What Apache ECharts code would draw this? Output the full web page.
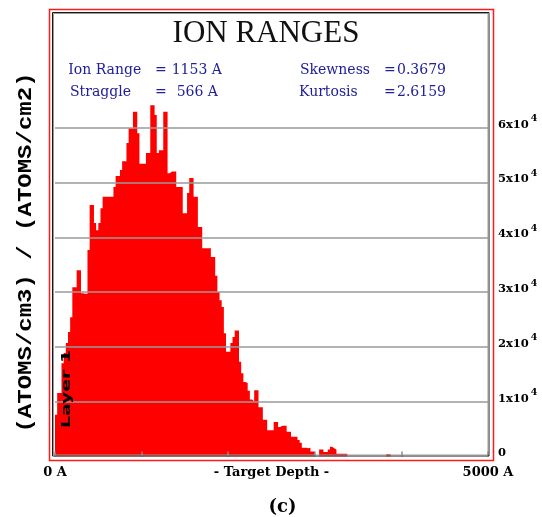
<!DOCTYPE html>
<html><head><meta charset="utf-8">
<script src="https://cdn.jsdelivr.net/npm/echarts@6/dist/echarts.min.js"></script>
<style>html,body{margin:0;padding:0;background:#fff}#c{width:542px;height:517px}</style>
</head><body><div id="c"></div>
<script>
// ---- data ----
const binWidth = 25; // Å per histogram bin
const depthMin = 0, depthMax = 5000;
const counts = [
  7600, 11600, 11600, 17000, 18900, 20700, 22700, 25400, 30900, 30900,
  34000, 34000, 29800, 29700, 29700, 37700, 45900, 45900, 42600, 41300,
  42600, 45300, 47400, 47400, 47400, 47400, 47400, 49200, 51200, 51200,
  52300, 53900, 53900, 57200, 59900, 59900, 62900, 62900, 59000, 53400,
  53400, 53400, 55400, 55400, 64100, 64100, 62300, 55400, 55900, 55900,
  62900, 62900, 51700, 52000, 52000, 52000, 49200, 49200, 49200, 44400,
  44400, 48100, 50800, 50800, 47400, 47400, 41900, 41900, 38000, 38000,
  38000, 38000, 36400, 36400, 33000, 30000, 28500, 27300, 22500, 19100,
  19100, 20700, 21800, 23000, 23000, 17300, 15200, 13600, 13400, 12000,
  10400, 10100, 12100, 12100, 9000, 9000, 6700, 6700, 4800, 4800,
  4800, 6300, 6300, 5400, 5600, 5600, 5600, 4500, 4500, 3600,
  3600, 3600, 3000, 2500, 1600, 1600, 1500, 1600, 900, 900,
  0, 0, 1300, 1300, 800, 800, 1300, 1800, 1500, 1300,
  500, 500, 500, 500, 500, 0, 0, 0, 0, 0,
  0, 0, 0, 0, 0, 0, 0, 0, 0, 0,
  0, 0, 0, 400, 400, 0, 0, 0, 0, 0,
  0, 0, 0, 0, 0, 0, 0, 0, 0, 0,
  0, 0, 0, 0, 0, 0, 0, 0, 0, 0,
  0, 0, 0, 0, 0, 0, 0, 0, 0, 0,
  0, 0, 0, 0, 0, 0, 0, 0, 0, 0
];
const gridValues = [10000, 20000, 30000, 40000, 50000, 60000];
const yLabelMax = 60000;
const xEndLabels = {0: '0 A', 5000: '5000 A'};
const statNames = ['Ion Range', 'Straggle', 'Skewness', 'Kurtosis'];
const statValues = ['1153 A', '566 A', '0.3679', '2.6159'];
const titleText = 'ION RANGES';
const yTitle = '(ATOMS/cm3) / (ATOMS/cm2)';
const xTitle = '- Target Depth -';
const layerText = 'Layer 1';
const caption = '(c)';

// ---- build ----
const depths = counts.map((_, i) => depthMin + i * binWidth);
const seriesData = depths.map((d, i) => [d, counts[i]]);

const statFont = '14px "DejaVu Serif"';
const statColor = '#20209a';
function txt(x, y, text, font, fill, extra) {
  return Object.assign({type: 'text', x: x, y: y, z: 100, silent: true,
    style: Object.assign({text: text, font: font, fill: fill, align: 'left', verticalAlign: 'middle'}, extra || {})});
}

const chart = echarts.init(document.getElementById('c'), null, {renderer: 'canvas', width: 542, height: 517});
chart.setOption({
  animation: false,
  backgroundColor: '#ffffff',
  grid: {left: 55, right: 54, top: 18.1, bottom: 60.5, containLabel: false, outerBoundsMode: 'none'},
  xAxis: {
    type: 'value', min: depthMin, max: depthMax, interval: 1000, z: 10,
    axisLine: {show: false},
    splitLine: {show: false},
    axisTick: {show: true, inside: true, length: 5, lineStyle: {color: '#8a8a8a', width: 1.5}},
    axisLabel: {
      show: true, margin: 10, color: '#000',
      fontFamily: 'DejaVu Serif', fontWeight: 'bold', fontSize: 13,
      showMinLabel: true, showMaxLabel: true,
      formatter: v => xEndLabels[v] || ''
    },
    name: xTitle, nameLocation: 'middle', nameGap: 10, nameMoveOverlap: false,
    nameTextStyle: {color: '#000', fontFamily: 'DejaVu Serif', fontWeight: 'bold', fontSize: 13, verticalAlign: 'top'}
  },
  yAxis: {
    type: 'value', position: 'right', min: 0, max: 80000, interval: 10000,
    axisLine: {show: false}, axisTick: {show: false}, splitLine: {show: false},
    axisLabel: {
      show: true, margin: 10, align: 'left', verticalAlign: 'middle',
      padding: [0, 0, 6, 0],
      formatter: v => v === 0 ? '{n|0}' : (v <= yLabelMax ? '{n|' + (v / 10000) + 'x10}{s|4}' : ''),
      rich: {
        n: {fontFamily: 'DejaVu Serif', fontWeight: 'bold', fontSize: 11.5, color: '#000', lineHeight: 22},
        s: {fontFamily: 'DejaVu Serif', fontWeight: 'bold', fontSize: 9.5, color: '#000', lineHeight: 10, verticalAlign: 'top', padding: [0, 0, 0, 2]}
      }
    }
  },
  series: [
    {
      type: 'line', step: 'end', symbol: 'none', silent: true,
      data: seriesData,
      lineStyle: {width: 0, color: '#ff0000'},
      areaStyle: {color: '#ff0000', opacity: 1},
      z: 2
    },
    {
      type: 'line', data: [], z: 5, silent: true,
      markLine: {
        silent: true, symbol: ['none', 'none'], label: {show: false},
        lineStyle: {color: '#9a9a9a', width: 1.5, type: 'solid'},
        emphasis: {disabled: true},
        data: gridValues.map(v => ({yAxis: v}))
      }
    }
  ],
  graphic: [
    {type: 'rect', z: 100, silent: true, shape: {x: 49.5, y: 9.5, width: 444, height: 451},
      style: {fill: 'none', stroke: '#ff1a1a', lineWidth: 1.5}},
    {type: 'rect', z: 100, silent: true, shape: {x: 52.5, y: 12.5, width: 436.5, height: 443.5},
      style: {fill: 'none', stroke: '#1a1a1a', lineWidth: 1}},
    {type: 'rect', z: 100, silent: true, shape: {x: 53.5, y: 13.5, width: 434.5, height: 441.5},
      style: {fill: 'none', stroke: '#9a9a9a', lineWidth: 1}},
    txt(266, 34, titleText, '31px "Liberation Serif"', '#111', {align: 'center'}),
    txt(68.3, 70.8, statNames[0], statFont, statColor),
    txt(155, 70.8, '=', statFont, statColor),
    txt(171.7, 70.8, statValues[0], statFont, statColor),
    txt(70, 92.3, statNames[1], statFont, statColor),
    txt(155, 92.3, '=', statFont, statColor),
    txt(176.7, 92.3, statValues[1], statFont, statColor),
    txt(300, 70.8, statNames[2], statFont, statColor),
    txt(384, 70.8, '=', statFont, statColor),
    txt(397, 70.8, statValues[2], statFont, statColor),
    txt(299, 92.3, statNames[3], statFont, statColor),
    txt(384, 92.3, '=', statFont, statColor),
    txt(397, 92.3, statValues[3], statFont, statColor),
    Object.assign(txt(26, 252.5, yTitle, 'bold 20px "Liberation Mono"', '#000', {align: 'center'}),
      {rotation: Math.PI / 2, scaleX: 1.2}),
    Object.assign(txt(66.5, 389, layerText, 'bold 13px "DejaVu Sans"', '#000', {align: 'center'}),
      {rotation: Math.PI / 2, scaleX: 1.45}),
    txt(282.5, 507.5, caption, 'bold 18px "DejaVu Serif"', '#000', {align: 'center'})
  ]
});
</script>
</body></html>
